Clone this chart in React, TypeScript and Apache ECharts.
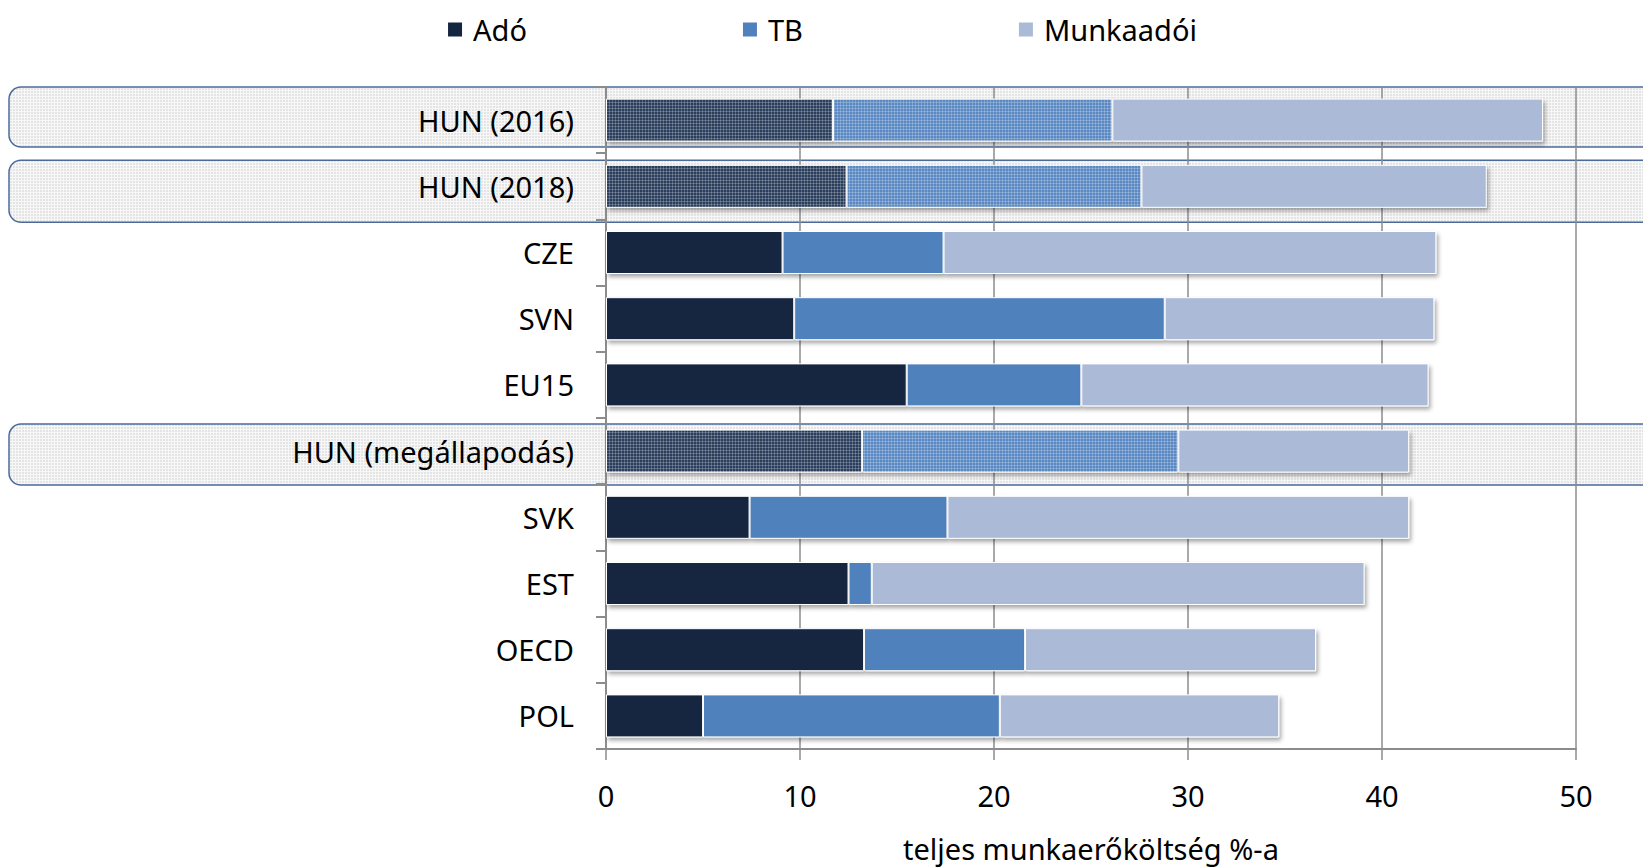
import React, { useEffect, useRef } from "react";
import * as echarts from "echarts";

const categories = [
  "HUN (2016)",
  "HUN (2018)",
  "CZE",
  "SVN",
  "EU15",
  "HUN (megállapodás)",
  "SVK",
  "EST",
  "OECD",
  "POL",
];
const ado = [11.7, 12.4, 9.1, 9.7, 15.5, 13.2, 7.4, 12.5, 13.3, 5.0];
const tb = [14.4, 15.2, 8.3, 19.1, 9.0, 16.3, 10.2, 1.2, 8.3, 15.3];
const munkaadoi = [22.2, 17.8, 25.4, 13.9, 17.9, 11.9, 23.8, 25.4, 15.0, 14.4];
const highlighted = ["HUN (2016)", "HUN (2018)", "HUN (megállapodás)"];
const xTicks = [0, 10, 20, 30, 40, 50];

const seriesNames = ["Adó", "TB", "Munkaadói"];
const seriesColors = ["#13253f", "#4f81bd", "#abbad7"];
const highlightColors = ["#2a3e5c", "#5a88c2", "#adbbd6"];
const FONT = "'Noto Sans', sans-serif";
const FS = 29;
// vertical nudges of the highlight boxes (px), one per highlighted row
const boxNudge = [-1, 6, 5];
const boxHeight = [60, 62, 61];

function makePattern(base: string, line: string, size = 3) {
  const c = document.createElement("canvas");
  c.width = size;
  c.height = size;
  const ctx = c.getContext("2d")!;
  ctx.fillStyle = base;
  ctx.fillRect(0, 0, size, size);
  ctx.fillStyle = line;
  ctx.fillRect(0, 0, size, 1);
  ctx.fillRect(0, 0, 1, size);
  return c;
}

export default function App() {
  const ref = useRef<HTMLDivElement>(null);

  useEffect(() => {
    if (!ref.current) return;
    const chart = echarts.init(ref.current, undefined, { renderer: "svg" });

    const hlPatterns = highlightColors.map((col) => ({
      image: makePattern(col, "rgba(255,255,255,0.22)"),
      repeat: "repeat",
    }));
    const boxPattern = {
      image: makePattern("#e4e4e4", "#f7f7f7"),
      repeat: "repeat",
    };

    const values = [ado, tb, munkaadoi];
    const series = values.map((vals, si) => ({
      name: seriesNames[si],
      type: "bar",
      stack: "total",
      barWidth: 43,
      z: 3,
      itemStyle: {
        color: seriesColors[si],
        borderColor: "#ffffff",
        borderWidth: 1,
        shadowColor: "rgba(0,0,0,0.35)",
        shadowBlur: 4,
        shadowOffsetX: 2,
        shadowOffsetY: 3,
      },
      data: vals.map((v, i) =>
        highlighted.includes(categories[i]) && si < 2
          ? { value: v, itemStyle: { color: hlPatterns[si] } }
          : v
      ),
    }));

    chart.setOption({
      animation: false,
      backgroundColor: "#ffffff",
      textStyle: { fontFamily: FONT },
      legend: {
        data: seriesNames,
        top: 10,
        left: "center",
        icon: "rect",
        itemWidth: 16,
        itemHeight: 16,
        itemGap: 214,
        textStyle: { fontSize: FS, color: "#000", fontFamily: FONT, padding: [0, 0, 0, 5] },
      },
      grid: { left: 606, right: 67, top: 87, bottom: 116 },
      xAxis: {
        type: "value",
        min: xTicks[0],
        max: xTicks[xTicks.length - 1],
        interval: xTicks[1] - xTicks[0],
        name: "teljes munkaerőköltség %-a",
        nameLocation: "middle",
        nameGap: 85,
        nameTextStyle: { fontSize: FS, color: "#000", fontFamily: FONT },
        axisLine: { show: true, lineStyle: { color: "#8c8c8c", width: 2 } },
        axisTick: { show: true, length: 11, lineStyle: { color: "#8c8c8c", width: 1.5 } },
        axisLabel: { fontSize: FS, color: "#000", margin: 32, fontFamily: FONT },
        splitLine: { show: true, lineStyle: { color: "#8c8c8c", width: 1.5 } },
      },
      yAxis: {
        type: "category",
        data: categories,
        inverse: true,
        axisLine: { show: true, lineStyle: { color: "#8c8c8c", width: 2 } },
        axisTick: { show: true, length: 10, lineStyle: { color: "#8c8c8c", width: 2 } },
        axisLabel: { fontSize: FS, color: "#000", margin: 32, fontFamily: FONT },
        splitLine: { show: false },
      },
      series,
    });

    const graphics = highlighted.map((cat, k) => {
      const cy = chart.convertToPixel({ yAxisIndex: 0 }, cat) as number;
      return {
        type: "rect",
        z: -10,
        silent: true,
        shape: { x: 9, y: cy - 32 + boxNudge[k], width: 1700, height: boxHeight[k], r: 12 },
        style: { fill: boxPattern as any, stroke: "#4a6b9b", lineWidth: 1.5 },
      };
    });
    chart.setOption({ graphic: graphics });

    return () => chart.dispose();
  }, []);

  return (
    <div
      ref={ref}
      style={{ position: "fixed", left: 0, top: 0, width: 1643, height: 868 }}
    />
  );
}
